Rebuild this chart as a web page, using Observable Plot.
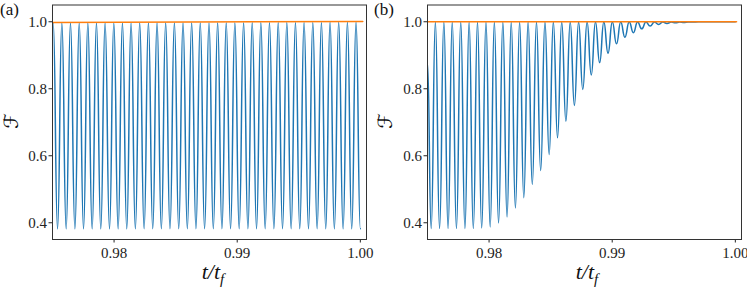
<!DOCTYPE html>
<html>
<head>
<meta charset="utf-8">
<script src="https://cdn.jsdelivr.net/npm/d3@7"></script>
<script src="https://cdn.jsdelivr.net/npm/@observablehq/plot@0.6"></script>
<style>
  html, body { margin: 0; padding: 0; background: #fff; }
  #wrap { position: relative; width: 747px; height: 289px; overflow: hidden; }
  #pa, #pb { position: absolute; top: 0; }
  #pa { left: 0; }
  #pb { left: 374px; }
</style>
</head>
<body>
<div id="wrap"><div id="pa"></div><div id="pb"></div></div>
<script>
// ---- tick labels ----
const xTicks = [0.98, 0.99, 1.00];
const yTicks = [0.4, 0.6, 0.8, 1.0];

// ---- panel (a): blue oscillation extrema ----
const aPeakT = [0.97506, 0.97576, 0.97646, 0.97717, 0.97787, 0.97857, 0.97927, 0.97998, 0.98068, 0.98138,
                0.98208, 0.98279, 0.98349, 0.98419, 0.98490, 0.98560, 0.98630, 0.98700, 0.98771, 0.98841,
                0.98911, 0.98981, 0.99052, 0.99122, 0.99192, 0.99262, 0.99333, 0.99403, 0.99473, 0.99543,
                0.99614, 0.99684, 0.99754, 0.99824, 0.99895, 0.99965];
const aPeakF = [0.996, 0.996, 0.996, 0.996, 0.996, 0.996, 0.996, 0.996, 0.996, 0.996,
                0.997, 0.997, 0.997, 0.997, 0.997, 0.997, 0.997, 0.997, 0.997, 0.997,
                0.997, 0.997, 0.997, 0.998, 0.998, 0.998, 0.998, 0.998, 0.998, 0.998,
                0.998, 0.998, 0.999, 0.999, 0.999, 0.999];
const aTroughT = [0.97541, 0.97611, 0.97682, 0.97752, 0.97822, 0.97892, 0.97963, 0.98033, 0.98103, 0.98173,
                  0.98244, 0.98314, 0.98384, 0.98454, 0.98525, 0.98595, 0.98665, 0.98735, 0.98806, 0.98876,
                  0.98946, 0.99016, 0.99087, 0.99157, 0.99227, 0.99298, 0.99368, 0.99438, 0.99508, 0.99579,
                  0.99649, 0.99719, 0.99789, 0.99860, 0.99930, 1.00000];
const aTroughF = [0.382, 0.382, 0.382, 0.382, 0.382, 0.382, 0.382, 0.382, 0.382, 0.382,
                  0.382, 0.382, 0.382, 0.382, 0.382, 0.382, 0.382, 0.382, 0.382, 0.382,
                  0.382, 0.382, 0.382, 0.382, 0.382, 0.382, 0.382, 0.382, 0.382, 0.382,
                  0.382, 0.382, 0.382, 0.382, 0.382, 0.382];
// orange (a)
const aOrangeT = [0.975, 1.0002];
const aOrangeF = [0.998, 1.001];

// ---- panel (b): blue decaying oscillation extrema ----
const bStartT = [0.975];
const bStartF = [0.877];
const bPeakT = [0.97564, 0.97633, 0.97701, 0.97770, 0.97838, 0.97906, 0.97975, 0.98043, 0.98112, 0.98180,
                0.98248, 0.98317, 0.98385, 0.98454, 0.98522, 0.98590, 0.98659, 0.98727, 0.98796, 0.98864,
                0.98932, 0.99001, 0.99069, 0.99138, 0.99206, 0.99274, 0.99343, 0.99411, 0.99480, 0.99548,
                0.99616];
const bPeakF = [0.999, 0.999, 0.999, 0.999, 0.999, 0.999, 0.999, 0.999, 0.999, 0.999,
                0.999, 0.999, 0.999, 0.999, 0.999, 0.999, 0.999, 0.999, 0.999, 0.999,
                0.999, 0.999, 0.999, 0.999, 0.999, 0.999, 0.999, 0.999, 0.999, 0.999,
                0.999];
const bTroughT = [0.97530, 0.97598, 0.97667, 0.97735, 0.97804, 0.97872, 0.97940, 0.98009, 0.98077, 0.98146,
                  0.98214, 0.98282, 0.98351, 0.98419, 0.98488, 0.98556, 0.98624, 0.98693, 0.98761, 0.98830,
                  0.98898, 0.98966, 0.99035, 0.99103, 0.99172, 0.99240, 0.99308, 0.99377, 0.99445, 0.99514,
                  0.99582, 0.99650];
const bTroughF = [0.383, 0.383, 0.383, 0.383, 0.383, 0.383, 0.384, 0.387, 0.399, 0.417,
                  0.444, 0.475, 0.515, 0.556, 0.604, 0.654, 0.703, 0.750, 0.798, 0.841,
                  0.878, 0.906, 0.934, 0.954, 0.967, 0.979, 0.987, 0.992, 0.995, 0.997,
                  0.998, 0.999];
const bTailT = [0.99700, 1.00000];
const bTailF = [1.000, 1.000];
// orange (b)
const bOrangeT = [0.975, 1.0001];
const bOrangeF = [1.000, 1.000];

// ---- build tables ----
function zipPts(T, F) { return T.map((t, i) => ({t, F: F[i]})); }
function merge(...parts) { return parts.flat().sort((p, q) => p.t - q.t); }

const aBlue = merge(zipPts(aPeakT, aPeakF), zipPts(aTroughT, aTroughF));
const bBlue = merge(zipPts(bStartT, bStartF), zipPts(bPeakT, bPeakF), zipPts(bTroughT, bTroughF), zipPts(bTailT, bTailF));
const aOrange = zipPts(aOrangeT, aOrangeF);
const bOrange = zipPts(bOrangeT, bOrangeF);

const SERIF = "'Liberation Serif', serif";

function panel(blue, orange, width, marginLeft, marginRight, tag, xLabelX) {
  const svg = Plot.plot({
    width, height: 289,
    marginTop: 4.5, marginBottom: 50, marginLeft, marginRight,
    style: {fontFamily: SERIF, fontSize: "15px", background: "white", color: "#222", overflow: "visible"},
    x: {domain: [0.975, 1.0005], label: null},
    y: {domain: [0.35, 1.05], label: null},
    marks: [
      Plot.axisX({ticks: xTicks, tickFormat: d3.format(".2f"), label: null, tickSize: 3.5, tickPadding: 4,
                  fontFamily: SERIF, fontSize: 15, fontVariant: "normal"}),
      Plot.axisY({ticks: yTicks, tickFormat: d3.format(".1f"), label: null, tickSize: 3.5, tickPadding: 2,
                  fontFamily: SERIF, fontSize: 15, fontVariant: "normal"}),
      Plot.line(blue, {x: "t", y: "F", curve: "bump-x", stroke: "#1f77b4", strokeWidth: 1.5, clip: true}),
      Plot.line(orange, {x: "t", y: "F", stroke: "#ff7f0e", strokeWidth: 1.5, clip: true}),
      Plot.frame({stroke: "#333", strokeWidth: 1})
    ]
  });
  const s = d3.select(svg);
  // x label t/t_f
  const xl = s.append("text")
    .attr("x", xLabelX).attr("y", 279)
    .attr("text-anchor", "middle")
    .style("font-family", SERIF).style("font-style", "italic").style("font-size", "22px")
    .attr("fill", "#111");
  xl.append("tspan").text("t/t");
  xl.append("tspan").text("f").attr("dy", 5).style("font-size", "15px");
  // y label
  s.append("text")
    .attr("transform", "translate(12,121) rotate(-90)")
    .attr("text-anchor", "middle")
    .attr("dominant-baseline", "middle")
    .style("font-family", "'DejaVu Sans'").style("font-size", "20px")
    .attr("fill", "#111")
    .text("ℱ");
  // panel tag
  s.append("text")
    .attr("x", 0).attr("y", 15)
    .attr("text-anchor", "start")
    .style("font-family", SERIF).style("font-size", "17px")
    .attr("fill", "#111")
    .text(tag);
  return svg;
}

document.getElementById("pa").appendChild(panel(aBlue, aOrange, 374, 52, 8, "(a)", 213));
document.getElementById("pb").appendChild(panel(bBlue, bOrange, 373, 53, 6, "(b)", 213));
</script>
</body>
</html>
